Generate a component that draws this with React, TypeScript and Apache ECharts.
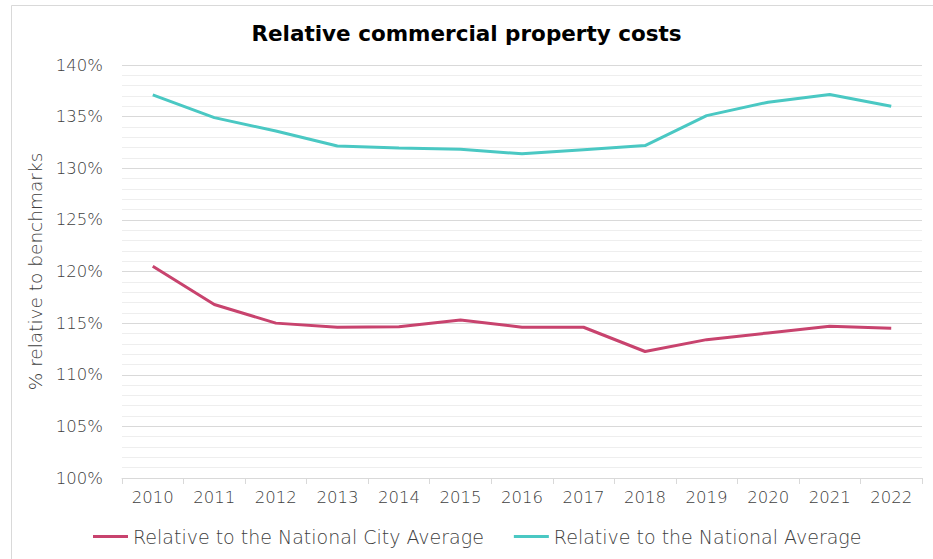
import React, { useEffect, useRef } from "react";
import * as echarts from "echarts";

const years = ["2010","2011","2012","2013","2014","2015","2016","2017","2018","2019","2020","2021","2022"];
const nationalCityAvg = [120.5, 116.8, 115.0, 114.6, 114.65, 115.3, 114.6, 114.6, 112.25, 113.4, 114.05, 114.7, 114.5];
const nationalAvg = [137.1, 134.9, 133.6, 132.15, 131.95, 131.85, 131.4, 131.8, 132.2, 135.1, 136.4, 137.15, 136.0];
const seriesNames = ["Relative to the National City Average", "Relative to the National Average"];
const title = "Relative commercial property costs";
const yAxisName = "% relative to benchmarks";

const WIDE = "'DejaVu Sans', sans-serif";
const GREY = "#404040";

export default function App() {
  const ref = useRef<HTMLDivElement>(null);
  useEffect(() => {
    document.body.style.margin = "0";
    const chart = echarts.init(ref.current!, null, { renderer: "svg" });
    chart.setOption({
      animation: false,
      backgroundColor: "#ffffff",
      title: {
        text: title,
        left: "center",
        top: 17,
        textStyle: { fontFamily: WIDE, fontWeight: "bold", fontSize: 21.5, color: "#000" },
      },
      graphic: [
        {
          type: "rect",
          shape: { x: 11.5, y: 5.5, width: 1000, height: 1000 },
          style: { fill: "none", stroke: "#d9d9d9", lineWidth: 1 },
          silent: true,
          z: -1,
        },
      ],
      grid: { left: 122, right: 11, top: 65, bottom: 81, containLabel: false },
      legend: {
        bottom: 8,
        left: 88,
        icon: "rect",
        itemWidth: 35,
        itemHeight: 3,
        itemGap: 30,
        textStyle: { fontFamily: WIDE, fontSize: 19, color: GREY, fontWeight: 200 },
        data: seriesNames,
      },
      xAxis: {
        type: "category",
        data: years,
        boundaryGap: true,
        axisLine: { lineStyle: { color: "#d9d9d9", width: 1 } },
        axisTick: { show: true, length: 6, lineStyle: { color: "#d9d9d9" } },
        axisLabel: { fontFamily: WIDE, fontSize: 16.5, color: GREY, margin: 11, fontWeight: 200 },
      },
      yAxis: {
        type: "value",
        min: 100,
        max: 140,
        interval: 5,
        name: yAxisName,
        nameLocation: "middle",
        nameGap: 68,
        nameTextStyle: { fontFamily: WIDE, fontSize: 18.5, color: GREY, fontWeight: 200 },
        axisLine: { show: false },
        axisTick: { show: false },
        axisLabel: { formatter: "{value}%", fontFamily: WIDE, fontSize: 16.5, color: GREY, margin: 19, fontWeight: 200 },
        splitLine: { show: true, lineStyle: { color: "#d9d9d9", width: 1 } },
        minorTick: { show: false, splitNumber: 5 },
        minorSplitLine: { show: true, lineStyle: { color: "#eeeeee", width: 1 } },
      },
      series: [
        {
          name: seriesNames[0],
          type: "line",
          data: nationalCityAvg,
          symbol: "none",
          lineStyle: { color: "#C8436E", width: 3 },
          itemStyle: { color: "#C8436E" },
        },
        {
          name: seriesNames[1],
          type: "line",
          data: nationalAvg,
          symbol: "none",
          lineStyle: { color: "#4AC8C3", width: 3 },
          itemStyle: { color: "#4AC8C3" },
        },
      ],
    });
    return () => chart.dispose();
  }, []);
  return <div ref={ref} style={{ width: 933, height: 559, position: "absolute", left: 0, top: 0 }} />;
}
